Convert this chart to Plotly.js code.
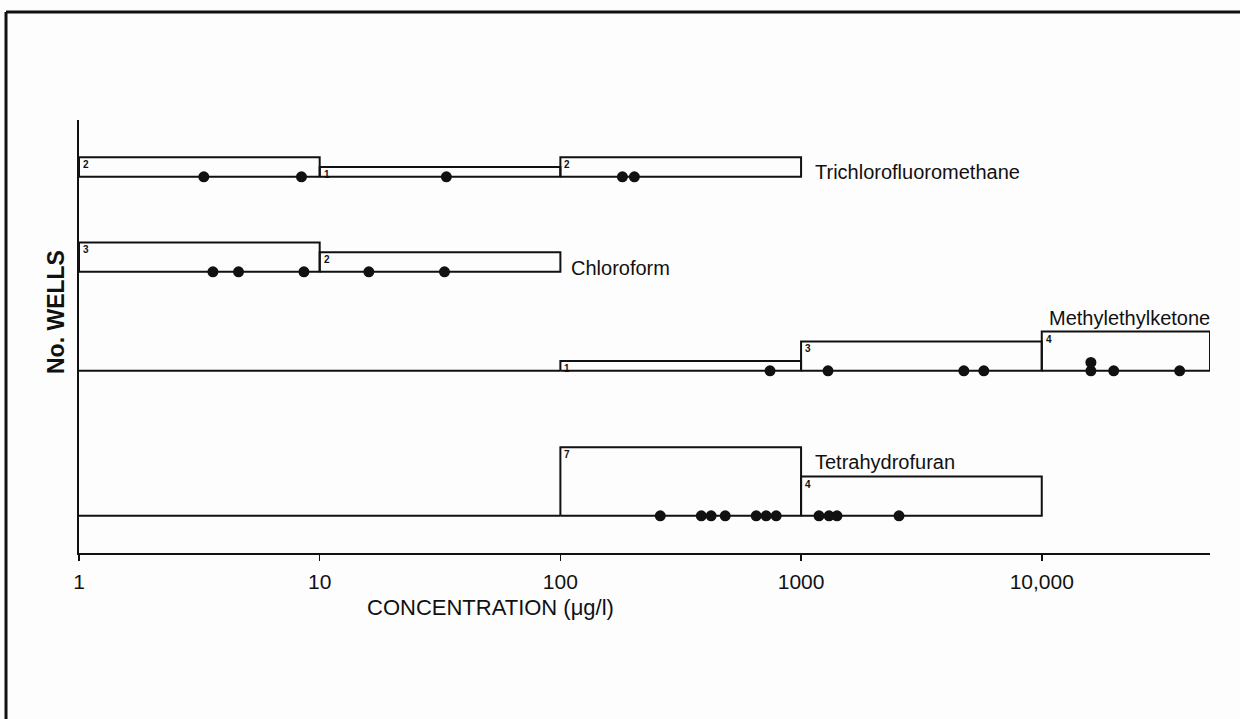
<!DOCTYPE html>
<html>
<head>
<meta charset="utf-8">
<script src="https://cdn.plot.ly/plotly-3.0.1.min.js"></script>
<style>
  html, body { margin: 0; padding: 0; background: #fdfdfd; }
  #chart { width: 1240px; height: 719px; }
</style>
</head>
<body>
<div id="chart"></div>
<script>
// ---- data ----
const compounds = ["Trichlorofluoromethane", "Chloroform", "Methylethylketone", "Tetrahydrofuran"];

const trichloroBins = [1, 10, 100, 1000];
const trichloroCounts = [2, 1, 2];
const trichloroValues = [3.3, 8.4, 33.6, 181, 203];

const chloroformBins = [1, 10, 100];
const chloroformCounts = [3, 2];
const chloroformValues = [3.6, 4.6, 8.6, 16, 33];

const mekBins = [100, 1000, 10000, 50000];
const mekCounts = [1, 3, 4];
const mekValues = [743, 1294, 4745, 5745, 16000, 16000, 19900, 37400];

const thfBins = [100, 1000, 10000];
const thfCounts = [7, 4];
const thfValues = [260, 385, 423, 484, 651, 716, 788, 1187, 1307, 1410, 2552];

const tickValues = [1, 10, 100, 1000, 10000];
const tickLabels = ["1", "10", "100", "1000", "10,000"];

// ---- layout constants (vertical offsets of each row, in count units) ----
const rowBase = [38.4, 28.7, 18.6, 3.8];
const stackStep = 0.85;

const rows = [
  {bins: trichloroBins, counts: trichloroCounts, values: trichloroValues},
  {bins: chloroformBins, counts: chloroformCounts, values: chloroformValues},
  {bins: mekBins, counts: mekCounts, values: mekValues},
  {bins: thfBins, counts: thfCounts, values: thfValues}
];

const traces = [];
const annotations = [];
const F = "Liberation Sans, Arial, sans-serif";

rows.forEach((r, i) => {
  const b = rowBase[i];
  const xs = [], ys = [];
  xs.push(1, r.bins[0], null); ys.push(b, b, null);
  for (let k = 0; k < r.counts.length; k++) {
    const lo = r.bins[k], hi = r.bins[k + 1], top = b + r.counts[k];
    xs.push(lo, lo, hi, hi, lo, null);
    ys.push(b, top, top, b, b, null);
    annotations.push({
      x: Math.log10(lo), y: top, xref: "x", yref: "y",
      text: "<b>" + r.counts[k] + "</b>", showarrow: false,
      xanchor: "left", yanchor: "top", xshift: 2, yshift: 0,
      font: {family: F, size: 10, color: "#111"}
    });
  }
  traces.push({
    x: xs, y: ys, mode: "lines", type: "scatter",
    line: {color: "#111", width: 2}, hoverinfo: "skip", showlegend: false
  });
  const seen = {};
  const py = r.values.map(v => {
    seen[v] = (seen[v] || 0) + 1;
    return b + (seen[v] - 1) * stackStep;
  });
  traces.push({
    x: r.values, y: py, mode: "markers", type: "scatter",
    marker: {color: "#111", size: 11}, showlegend: false, name: compounds[i]
  });
});

// compound names
annotations.push(
  {x: Math.log10(1000), y: rowBase[0] + 0.5, text: compounds[0], xshift: 12, xanchor: "left", yanchor: "middle"},
  {x: Math.log10(100), y: rowBase[1] + 0.4, text: compounds[1], xshift: 9, xanchor: "left", yanchor: "middle"},
  {x: Math.log10(23200), y: rowBase[2] + 5.4, text: compounds[2], xanchor: "center", yanchor: "middle"},
  {x: Math.log10(1000), y: rowBase[3] + 5.5, text: compounds[3], xshift: 12, xanchor: "left", yanchor: "middle"}
);
for (let k = annotations.length - 4; k < annotations.length; k++) {
  Object.assign(annotations[k], {xref: "x", yref: "y", showarrow: false,
    font: {family: F, size: 20, color: "#111"}});
}
// axis titles placed as in the original
annotations.push({
  xref: "paper", yref: "paper", x: (490 - 79) / 1131, y: -(607 - 553) / 433,
  text: "CONCENTRATION (μg/l)", showarrow: false, xanchor: "center", yanchor: "middle",
  font: {family: F, size: 22, color: "#111"}
});
annotations.push({
  xref: "paper", yref: "paper", x: -(79 - 56) / 1131, y: (553 - 312) / 433,
  text: "<b>No. WELLS</b>", textangle: -90, showarrow: false,
  xanchor: "center", yanchor: "middle",
  font: {family: F, size: 23, color: "#111"}
});

const layout = {
  width: 1240, height: 719,
  paper_bgcolor: "#fdfdfd", plot_bgcolor: "rgba(0,0,0,0)",
  margin: {l: 79, r: 30, t: 120, b: 166},
  showlegend: false,
  xaxis: {
    type: "log", range: [0, Math.log10(50000)],
    tickvals: tickValues, ticktext: tickLabels,
    ticks: "outside", ticklen: 6, tickwidth: 1.5, tickcolor: "#111",
    showline: true, linecolor: "#111", linewidth: 2,
    showgrid: false, zeroline: false,
    ticklabelstandoff: 3,
    tickfont: {family: F, size: 21, color: "#111"}
  },
  yaxis: {
    range: [0, 44.2], showline: true, linecolor: "#111", linewidth: 2,
    showticklabels: false, ticks: "", showgrid: false, zeroline: false
  },
  annotations: annotations,
  shapes: [
    {type: "line", xref: "paper", yref: "paper",
     x0: (6 - 79) / 1131, x1: (6 - 79) / 1131, y0: (553 - 12) / 433, y1: (553 - 719) / 433,
     line: {color: "#111", width: 3}},
    {type: "line", xref: "paper", yref: "paper",
     x0: (6 - 79) / 1131, x1: (1240 - 79) / 1131, y0: (553 - 12) / 433, y1: (553 - 12) / 433,
     line: {color: "#111", width: 3}}
  ]
};

Plotly.newPlot("chart", traces, layout, {displayModeBar: false, staticPlot: true});
</script>
</body>
</html>
